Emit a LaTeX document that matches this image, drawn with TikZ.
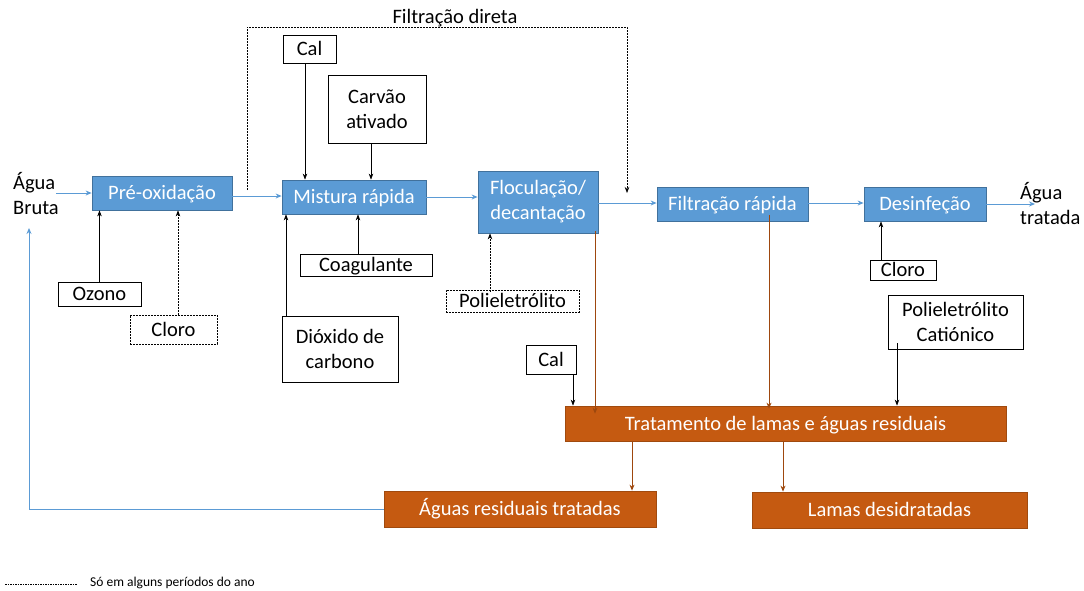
\documentclass[tikz,border=0pt]{standalone}
\usepackage{fontspec}
\setmainfont{Carlito}
\usetikzlibrary{arrows.meta,calc}
\definecolor{bfill}{HTML}{5B9BD5}
\definecolor{bdraw}{HTML}{41719C}
\definecolor{ofill}{HTML}{C55A11}
\definecolor{odraw}{HTML}{A04A0E}
\definecolor{barrow}{HTML}{5B9BD5}
\definecolor{brarrow}{HTML}{9E480E}
\begin{document}
\begin{tikzpicture}[x=1pt,y=-1pt,
  font=\fontsize{20.5}{25}\selectfont,
  bluebox/.style={draw=bdraw,fill=bfill,text=white,line width=0.8pt,inner sep=0pt,align=center},
  orbox/.style={draw=odraw,fill=ofill,text=white,line width=0.8pt,inner sep=0pt,align=center},
  wbox/.style={draw=black,fill=white,line width=0.8pt,inner sep=0pt,align=center},
  dbox/.style={wbox,dash pattern=on 2pt off 1pt},
  one/.style={text height=13pt,text depth=0pt},
  sz/.style 2 args={minimum width=#1pt,minimum height=#2pt},
  karr/.style={draw=black,line width=0.6pt,-{Stealth[length=6pt,width=4.5pt]}},
  darr/.style={karr,dash pattern=on 2pt off 1pt},
  blarr/.style={draw=barrow,line width=0.9pt,-{Stealth[length=6pt,width=5pt]}},
  brarr/.style={draw=brarrow,line width=0.8pt,-{Stealth[length=6pt,width=5pt]}},
  lbl/.style={inner sep=0pt,align=left}
]
\useasboundingbox (0,0) rectangle (1084,590);

% main process boxes
\node[bluebox,one,sz={140}{34}] (pre) at (162,193) {Pré-oxidação};
\node[bluebox,one,sz={144}{34}] (mist) at (354,197) {Mistura rápida};
\node[bluebox,sz={120}{62}] (floc) at (538,202) {Floculação/\\decantação};
\node[bluebox,one,sz={151}{34}] (filt) at (732.5,204) {Filtração rápida};
\node[bluebox,one,sz={122}{34}] (desi) at (925,204) {Desinfeção};

% reagents
\node[wbox,one,sz={53}{28}] (cal1) at (309.5,49) {Cal};
\node[wbox,sz={98}{68}] (carv) at (377,109) {Carvão\\ativado};
\node[wbox,one,sz={132}{22}] (coag) at (366,265) {Coagulante};
\node[wbox,sz={116}{66}] (diox) at (340,349) {Dióxido de\\carbono};
\node[wbox,one,sz={83}{24}] (ozo) at (99.5,294) {Ozono};
\node[dbox,one,sz={87}{29}] (clo1) at (173.5,329.5) {Cloro};
\node[dbox,one,sz={133}{22}] (poli) at (512.5,301) {Polieletrólito};
\node[wbox,one,sz={66}{20}] (clo2) at (903,270) {Cloro};
\node[wbox,sz={135}{54}] (polc) at (955.5,322) {Polieletrólito\\Catiónico};
\node[wbox,one,sz={50}{29}] (cal2) at (551,359.5) {Cal};

% sludge treatment
\node[orbox,one,sz={441}{35}] (trat) at (785.5,423.5) {Tratamento de lamas e águas residuais};
\node[orbox,one,sz={272}{36}] (aguar) at (520,509) {Águas residuais tratadas};
\node[orbox,one,sz={275}{36}] (lamas) at (889.5,510) {Lamas desidratadas};

% texts
\node[lbl,anchor=west] (bruta) at (13,194) {Água\\Bruta};
\node[lbl,anchor=west] (trtd) at (1020,204) {Água\\tratada};
\node[inner sep=0pt] (fdir) at (455,18) {Filtração direta};

% blue flow
\draw[blarr] (56,193) coordinate (bs) -- (pre.west);
\draw[blarr] (pre.east |- 0,196) -- (mist.west |- 0,196);
\draw[blarr] (mist.east) -- (floc.west |- mist.east);
\draw[blarr] (floc.east |- 0,203) -- (filt.west |- 0,203);
\draw[blarr] (filt.east |- 0,203) -- (desi.west |- 0,203);
\draw[blarr] (desi.east) -- ([xshift=15pt]trtd.west |- desi.east);

% filtração direta dashed loop
\coordinate (fd1) at (247,190);
\coordinate (fd2) at (627,193);
\draw[darr] (fd1) -- (247,27) -- (627,27) -- (fd2);

% reagent arrows
\draw[karr] ([xshift=-4.5pt]cal1.south) -- ([xshift=-4.5pt]cal1.south |- mist.north);
\draw[karr] ([xshift=-6pt]carv.south) -- ([xshift=-6pt]carv.south |- mist.north);
\draw[karr] ([xshift=-8pt]coag.north) -- ([xshift=-8pt]coag.north |- mist.south);
\draw[karr] ([xshift=-54pt]diox.north) -- ([xshift=-54pt]diox.north |- mist.south);
\draw[karr] (ozo.north) -- (ozo.north |- pre.south);
\draw[darr] ([xshift=4.5pt]clo1.north) -- ([xshift=4.5pt]clo1.north |- pre.south);
\draw[darr] ([xshift=-22.5pt,yshift=-2pt]poli.north) -- ([xshift=-22.5pt]poli.north |- floc.south);
\draw[karr] ([xshift=-22pt]clo2.north) -- ([xshift=-22pt]clo2.north |- desi.south);
\draw[karr] ([xshift=-58.5pt,yshift=6pt]polc.south) -- ([xshift=-58.5pt]polc.south |- trat.north);
\draw[karr] ([xshift=22pt]cal2.south) -- ([xshift=22pt]cal2.south |- trat.north);

% brown arrows
\draw[brarr] ([xshift=57pt,yshift=2pt]floc.south) -- ([xshift=57pt,yshift=-8pt]floc.south |- trat.north);
\draw[brarr] ([xshift=36.5pt,yshift=6pt]filt.south) -- ([xshift=36.5pt,yshift=-3pt]filt.south |- trat.north);
\draw[brarr] ([xshift=-153.5pt]trat.south) -- ([xshift=-153.5pt]trat.south |- aguar.north);
\draw[brarr] ([xshift=-2.5pt]trat.south) -- ([xshift=-2.5pt]trat.south |- lamas.north);

% return line
\coordinate (ret) at (29,228);
\draw[blarr] (aguar.west) -- (ret |- aguar.west) -- (ret);

% legend
\coordinate (lg1) at (5,584);
\coordinate (lg2) at (77,584);
\draw[line width=0.5pt,dash pattern=on 1.5pt off 1pt] (lg1) -- (lg2);
\node[anchor=west,inner sep=0pt,font=\fontsize{13.5}{16}\selectfont] (leg) at (90,583) {Só em alguns períodos do ano};
\end{tikzpicture}
\end{document}
